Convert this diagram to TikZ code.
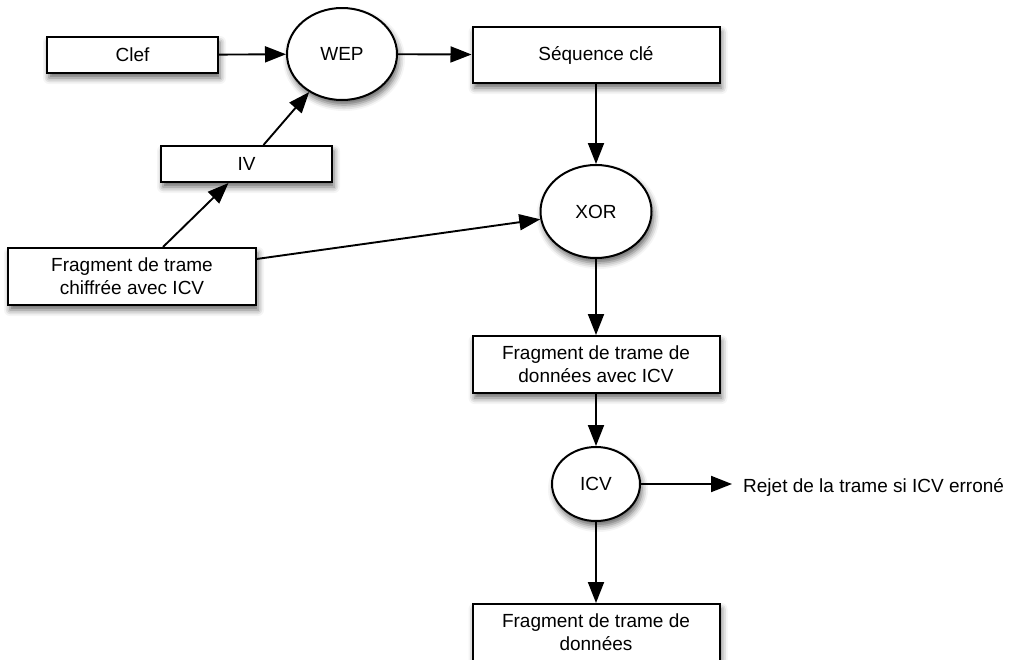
\documentclass[tikz,border=0pt]{standalone}
\usepackage{fontspec}
\setmainfont{Liberation Sans}
\usetikzlibrary{shapes.geometric,arrows.meta,shadows.blur,calc}
\begin{document}
\begin{tikzpicture}[x=1pt,y=-1pt,
  shd/.style={blur shadow={shadow xshift=2pt,shadow yshift=-5pt,shadow blur radius=6pt,shadow opacity=60}},
  base/.style={draw=black,line width=2pt,fill=white,inner sep=0pt,align=center,
    font=\fontsize{19}{23}\selectfont,shd},
  box/.style={base,rectangle},
  oval/.style={base,ellipse},
  arr/.style={line width=1.9pt,-{Triangle[length=21pt,width=16pt]}},
  lbl/.style={inner sep=0pt,font=\fontsize{19}{23}\selectfont}]
\useasboundingbox (0,0) rectangle (1009,659);
\node[box,minimum width=171pt,minimum height=36pt] (clef) at (132.5,55) {Clef};
\node[oval,minimum width=110pt,minimum height=92pt] (wep) at (342,54) {WEP};
\node[box,minimum width=247pt,minimum height=56pt] (seq) at (596,55) {Séquence clé};
\node[box,minimum width=171pt,minimum height=36pt] (iv) at (246.5,164) {IV};
\node[box,minimum width=248pt,minimum height=57pt] (frag) at (132,276.5) {Fragment de trame\\chiffrée avec ICV};
\node[oval,minimum width=111pt,minimum height=93pt] (xor) at (596,211.5) {XOR};
\node[box,minimum width=247pt,minimum height=57pt] (data) at (596,364.5) {Fragment de trame de\\données avec ICV};
\node[oval,minimum width=88pt,minimum height=74pt] (icv) at (596,484) {ICV};
\node[box,minimum width=247pt,minimum height=57pt] (out) at (596,632.5) {Fragment de trame de\\données};
\node[lbl,anchor=west] (rej) at (743,487) {Rejet de la trame si ICV erroné};
\draw[arr] (clef) -- (wep);
\draw[arr] (wep) -- (seq);
\draw[arr] ($(iv.north)+(17,0)$) -- (wep);
\draw[arr] ($(frag.north)+(31,0)$) -- ($(iv.south)+(-18,0)$);
\draw[arr] (frag.8) -- (xor);
\draw[arr] (seq) -- (xor);
\draw[arr] (xor) -- (data);
\draw[arr] (data) -- (icv);
\draw[arr] (icv) -- (out);
\draw[arr] (icv) -- ($(rej.west)+(-11,-3)$);
\end{tikzpicture}
\end{document}
